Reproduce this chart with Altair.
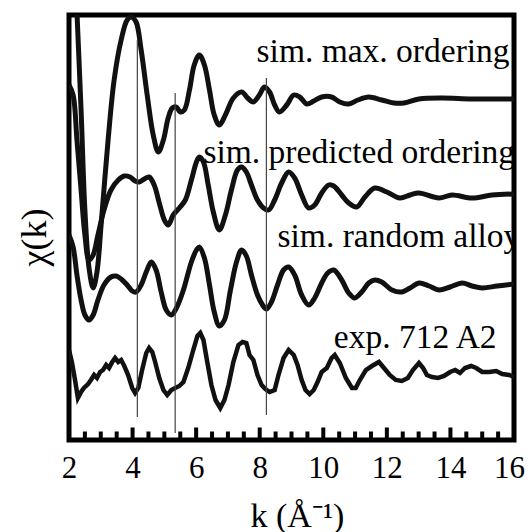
import altair as alt
import pandas as pd

# ---- data (k in 1/Angstrom, chi in arbitrary units) ----
max_k = [2.22, 2.38, 2.50, 2.63, 2.76, 2.88, 3.01, 3.23, 3.42, 3.64, 3.83, 3.96, 4.11, 4.27, 4.46,
         4.65, 4.81, 4.97, 5.12, 5.25, 5.38, 5.50, 5.63, 5.79, 5.94, 6.10, 6.26, 6.42, 6.57, 6.73,
         6.92, 7.17, 7.43, 7.62, 7.80, 7.99, 8.15, 8.31, 8.47, 8.62, 8.85, 9.07, 9.26, 9.48, 9.70,
         9.95, 10.26, 10.52, 10.80, 11.09, 11.43, 11.84, 12.22, 12.54, 13.01, 13.74, 14.68, 16.00]
max_chi = [10.9, -1.1, -11.1, -16.9, -18.9, -17.3, -12.6, -4.1, 1.9, 5.9, 7.9, 8.2, 7.7, 4.9, 0.4,
           -3.6, -5.3, -4.1, -1.9, -0.9, -0.8, -1.3, -1.1, 0.9, 3.4, 4.4, 3.4, 0.9, -1.6, -2.6,
           -1.6, 0.1, 0.7, 0.1, -0.3, 0.4, 1.2, 0.7, -0.6, -1.3, -0.6, 0.4, 0.2, -0.5, -0.2,
           0.2, 0.2, -0.3, -0.5, -0.1, 0.2, -0.1, -0.4, -0.4, 0.0, 0.1, 0.0, 0.0]

pred_k = [2.00, 2.13, 2.25, 2.38, 2.50, 2.63, 2.76, 2.91, 3.10, 3.32, 3.55, 3.74, 3.92, 4.08, 4.21,
          4.37, 4.52, 4.68, 4.84, 5.00, 5.12, 5.28, 5.47, 5.66, 5.85, 6.01, 6.10, 6.23, 6.38, 6.54,
          6.73, 6.92, 7.11, 7.30, 7.43, 7.58, 7.74, 7.93, 8.12, 8.28, 8.47, 8.69, 8.91, 9.10, 9.32,
          9.54, 9.73, 9.95, 10.17, 10.33, 10.58, 10.80, 11.05, 11.31, 11.62, 12.00, 12.41, 12.73,
          13.01, 13.64, 14.05, 14.68, 15.31, 16.00]
pred_chi = [11.0, 10.0, 5.5, 0.5, -4.0, -6.5, -6.0, -4.0, -1.5, 0.5, 1.5, 1.9, 1.8, 1.4, 1.3,
            1.6, 1.8, 1.0, -0.8, -2.5, -3.0, -2.0, -1.3, -0.5, 1.5, 3.3, 3.8, 3.3, 1.0, -1.7,
            -3.5, -2.0, 0.5, 2.5, 2.8, 2.3, 1.0, -0.5, -1.3, -1.5, -0.5, 1.2, 2.3, 1.7, 0.0,
            -1.3, -1.0, 0.2, 1.0, 0.9, 0.0, -0.8, -1.2, -0.2, 0.7, 0.3, -0.3, 0.0,
            0.2, -0.3, 0.0, -0.3, 0.0, 0.1]

rand_k = [2.00, 2.13, 2.25, 2.38, 2.50, 2.63, 2.76, 2.91, 3.10, 3.32, 3.48, 3.64, 3.83, 3.99, 4.11,
          4.27, 4.43, 4.59, 4.74, 4.90, 5.06, 5.22, 5.38, 5.60, 5.85, 6.01, 6.10, 6.26, 6.42, 6.57,
          6.73, 6.89, 7.08, 7.27, 7.43, 7.58, 7.74, 7.93, 8.09, 8.21, 8.37, 8.56, 8.75, 8.91, 9.10,
          9.32, 9.54, 9.73, 9.95, 10.14, 10.33, 10.58, 10.80, 10.99, 11.21, 11.43, 11.62, 11.84,
          12.16, 12.47, 12.73, 13.01, 13.33, 13.64, 13.99, 14.37, 14.68, 15.00, 15.47, 16.00]
rand_chi = [5.0, 3.8, 1.0, -1.5, -3.0, -3.5, -3.0, -1.5, 0.0, 0.8, 0.9, 0.6, 0.0, -0.6, -0.7,
            0.0, 1.3, 2.3, 1.5, -0.7, -2.5, -3.0, -2.3, -0.5, 2.3, 3.5, 3.8, 2.7, 0.0, -2.7,
            -4.1, -3.5, -0.5, 2.3, 3.5, 2.9, 1.0, -1.0, -2.0, -2.4, -1.7, 0.0, 1.5, 1.8, 1.0,
            -1.0, -2.0, -1.3, 0.2, 1.2, 1.5, 0.5, -0.8, -1.3, -0.7, 0.2, 0.5, 0.3,
            -0.5, -0.7, -0.3, 0.2, -0.1, -0.5, -0.2, 0.2, -0.1, -0.3, -0.1, 0.1]

exp_k = [2.00, 2.09, 2.19, 2.28, 2.38, 2.47, 2.60, 2.69, 2.79, 2.88, 2.98, 3.07, 3.17, 3.26, 3.36,
         3.45, 3.55, 3.64, 3.74, 3.86, 3.99, 4.08, 4.18, 4.30, 4.43, 4.52, 4.62, 4.71, 4.84, 4.97,
         5.09, 5.22, 5.34, 5.47, 5.60, 5.75, 5.91, 6.04, 6.13, 6.23, 6.35, 6.48, 6.61, 6.76, 6.89,
         7.02, 7.17, 7.33, 7.46, 7.58, 7.68, 7.80, 7.93, 8.06, 8.18, 8.31, 8.47, 8.59, 8.75, 8.91,
         9.07, 9.19, 9.32, 9.44, 9.57, 9.70, 9.82, 9.95, 10.11, 10.26, 10.36, 10.52, 10.71, 10.90,
         11.02, 11.15, 11.34, 11.53, 11.75, 11.91, 12.09, 12.28, 12.47, 12.66, 12.82, 13.01, 13.14,
         13.26, 13.42, 13.61, 13.80, 13.99, 14.15, 14.30, 14.46, 14.65, 14.81, 15.00, 15.22, 15.44,
         15.63, 15.85, 16.00]
exp_chi = [2.7, 1.5, -0.3, -2.1, -1.5, -1.1, -0.7, -0.3, 0.2, -0.1, 0.5, 0.7, 1.2, 0.9, 1.5,
           1.9, 1.5, 1.7, 1.1, 0.2, -1.1, -1.6, -1.1, 0.7, 2.4, 2.9, 2.5, 1.5, -0.1, -1.3,
           -1.8, -1.3, -1.1, -0.9, -0.5, 0.9, 2.7, 4.1, 4.4, 3.7, 1.5, -0.8, -2.3, -3.1, -2.3,
           -0.8, 1.5, 3.2, 3.5, 3.4, 2.2, 1.7, 0.2, -0.8, -1.2, -1.5, -1.3, 0.2, 1.9, 2.7,
           2.2, 1.2, -0.3, -1.3, -1.7, -1.3, -0.5, 0.5, 0.9, 1.9, 2.2, 1.4, -0.1, -1.1,
           -1.1, -0.3, 0.7, 1.1, 1.5, 0.9, 0.2, -0.3, -0.4, -0.1, 0.7, 1.4, 0.9,
           0.2, 0.0, -0.1, 0.1, 0.5, 0.7, 0.4, 0.9, 1.1, 0.9, 0.5, 0.5, 0.6,
           0.3, 0.2, 0.0]

series_names = ["sim. max. ordering", "sim. predicted ordering", "sim. random alloy", "exp. 712 A2"]
series_offsets = [34.1, 24.5, 15.5, 6.3]
label_k = [7.90, 6.23, 8.56, 10.33]
label_y = [37.8, 27.7, 19.3, 9.2]

ref_k = [4.15, 5.34, 8.21]
ref_y0 = [2.3, 0.7, 2.5]
ref_y1 = [40.0, 34.7, 36.2]

x_tick_labels = [2, 4, 6, 8, 10, 12, 14, 16]
major_ticks = [4, 6, 8, 10, 12, 14]
minor_ticks = [2.5, 3, 3.5, 4.5, 5, 5.5, 6.5, 7, 7.5, 8.5, 9, 9.5, 10.5, 11, 11.5,
               12.5, 13, 13.5, 14.5, 15, 15.5]

# ---- build tables ----
rows = []
for name, off, ks, cs in zip(series_names, series_offsets,
                             [max_k, pred_k, rand_k, exp_k],
                             [max_chi, pred_chi, rand_chi, exp_chi]):
    for i, (k, c) in enumerate(zip(ks, cs)):
        rows.append({"series": name, "k": k, "y": c + off, "order": i})
curves = pd.DataFrame(rows)
labels = pd.DataFrame({"text": series_names, "k": label_k, "y": label_y})
refs = pd.DataFrame({"k": ref_k, "y0": ref_y0, "y1": ref_y1})
majors = pd.DataFrame({"k": major_ticks})
minors = pd.DataFrame({"k": minor_ticks})

FONT = "Liberation Serif, Times New Roman, serif"
xscale = alt.Scale(domain=[2, 16], nice=False, zero=False)
yscale = alt.Scale(domain=[0, 42.5], nice=False, zero=False)

x_axis = alt.Axis(
    values=x_tick_labels, ticks=False, tickSize=0, domain=False, grid=False,
    labelFont=FONT, labelFontSize=31, labelPadding=13, labelFlush=False, labelOverlap=False,
    labelColor="black",
    labelOffset={"condition": {"test": "datum.value >= 16", "value": -5},
                 "value": 0},
    titleFont=FONT, titleFontSize=34, titleFontWeight="normal",
    titleColor="black", titleX=228, titleY=86, titleAlign="center", titleBaseline="alphabetic")
y_axis = alt.Axis(
    labels=False, ticks=False, domain=False, grid=False,
    titleFont=FONT, titleFontSize=36, titleFontWeight="normal",
    titleColor="black", titleX=-35, titleY=222, titleAlign="center", titleBaseline="middle")

XT = "k (Å⁻¹)"
YT = "χ(k)"


def xe(field="k"):
    return alt.X(f"{field}:Q", scale=xscale, axis=x_axis, title=XT)


def ye(field="y"):
    return alt.Y(f"{field}:Q", scale=yscale, axis=y_axis, title=YT)


sims = alt.Chart(curves).transform_filter(alt.datum.series != "exp. 712 A2").mark_line(
    color="#111111", strokeWidth=5, interpolate="catmull-rom", clip=True
).encode(x=xe(), y=ye(), detail="series:N", order="order:Q")

expl = alt.Chart(curves).transform_filter(alt.datum.series == "exp. 712 A2").mark_line(
    color="#111111", strokeWidth=4.5, interpolate="linear", clip=True
).encode(x=xe(), y=ye(), detail="series:N", order="order:Q")

rules = alt.Chart(refs).mark_rule(color="#444444", strokeWidth=1.2).encode(
    x=xe(), y=ye("y0"), y2="y1:Q")

texts = alt.Chart(labels).mark_text(
    align="left", baseline="alphabetic", font=FONT, fontSize=33.5, color="black", clip=True
).encode(x=xe(), y=ye(), text="text:N")

major_t = alt.Chart(majors).mark_rule(color="black", strokeWidth=4).encode(
    x=xe(), y=alt.value(425), y2=alt.value(412.5))
minor_t = alt.Chart(minors).mark_rule(color="black", strokeWidth=4).encode(
    x=xe(), y=alt.value(425), y2=alt.value(416.5))

chart = alt.layer(sims, expl, rules, texts, major_t, minor_t).properties(
    width=445, height=425,
    autosize=alt.AutoSizeParams(type="none"),
    padding={"left": 69, "top": 15, "right": 14, "bottom": 92},
    background="white",
).configure_view(stroke="black", strokeWidth=5).configure_axis(
    labelFont=FONT, titleFont=FONT, labelColor="black", titleColor="black"
)

chart.save("out.html", embed_options={"renderer": "svg", "actions": False})
